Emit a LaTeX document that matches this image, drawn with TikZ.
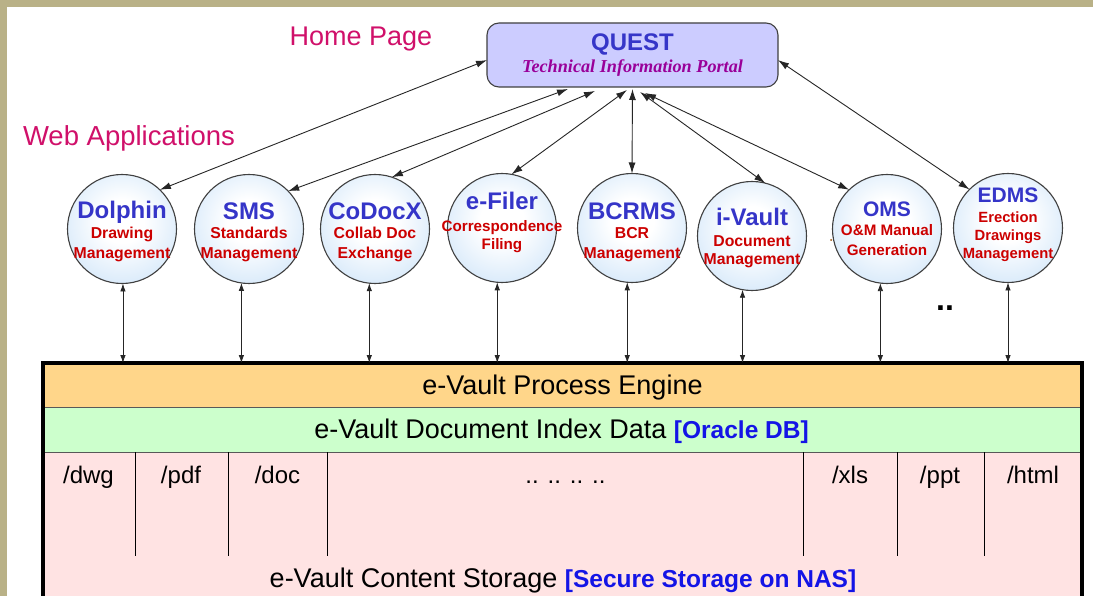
\documentclass[tikz,border=0pt]{standalone}
\usepackage{fontspec}
\setmainfont{Liberation Sans}
\newfontfamily\tnrfont{Liberation Serif}
\usetikzlibrary{arrows.meta,calc}
\definecolor{frame}{HTML}{B9B187}
\definecolor{questfill}{HTML}{CCCCFF}
\definecolor{ttlblue}{HTML}{3535C8}
\definecolor{subred}{HTML}{CC0000}
\definecolor{portal}{HTML}{990099}
\definecolor{pinkred}{HTML}{D0106A}
\definecolor{cblue}{HTML}{B8D8F6}
\definecolor{cborder}{HTML}{404040}
\definecolor{engfill}{HTML}{FFD68A}
\definecolor{idxfill}{HTML}{CCFFCC}
\definecolor{stofill}{HTML}{FFE3E3}
\definecolor{brblue}{HTML}{1414E6}
\pgfdeclareradialshading{appshade}{\pgfpoint{0bp}{4bp}}{color(0bp)=(white); color(10bp)=(white); color(40bp)=(cblue!85!white); color(50bp)=(cblue); color(100bp)=(cblue)}
\newcommand\apptitle[2][24]{{\fontsize{#1}{#1}\selectfont\color{ttlblue}#2}}
\begin{document}
\begin{tikzpicture}[x=1pt,y=-1pt,
  every node/.style={inner sep=0pt, outer sep=0pt},
  app/.style={circle, draw=cborder, line width=1.1pt, minimum size=109pt, shading=appshade},
  apptxt/.style={align=center, text=subred, font=\bfseries\fontsize{15.8}{#1}\selectfont},
  apptxt/.default=20,
  qarr/.style={<->, >={Latex[length=11pt,width=7pt]}, line width=0.9pt, draw=black!85},
  varr/.style={<->, >={Latex[length=8pt,width=5.5pt]}, line width=0.8pt, draw=black!85},
  lbl/.style={text=pinkred, font=\fontsize{27}{27}\selectfont, anchor=base},
  band/.style={minimum width=1039pt, inner sep=0pt, outer sep=0pt},
  bandtxt/.style={font=\fontsize{27}{27}\selectfont, anchor=base},
  coltxt/.style={font=\fontsize{24}{24}\selectfont, anchor=base},
  sepline/.style={draw=black!65, line width=0.8pt},
  colline/.style={draw=black, line width=0.8pt}
]
\useasboundingbox (0,0) rectangle (1093,596);
\clip (0,0) rectangle (1093,596);
\fill[white] (0,0) rectangle (1093,596);
\fill[frame] (0,0) rectangle (1093,7);
\fill[frame] (0,0) rectangle (7,596);

% labels
\node[lbl] (home) at (361,46) {Home Page};
\node[lbl, font=\fontsize{27.5}{27.5}\selectfont] (webapps) at (129,146) {Web Applications};

% QUEST portal
\node[draw=cborder, line width=1.1pt, fill=questfill, rounded corners=12pt,
      minimum width=291pt, minimum height=64pt, align=center,
      font=\fontsize{18.2}{22.5}\selectfont] (quest) at (632.5,55)
  {{\bfseries\fontsize{24}{24}\selectfont\color{ttlblue}QUEST}\\
   {\tnrfont\bfseries\itshape\color{portal}Technical Information Portal}};

% application circles
\node[app] (dolphin) at (122,229) {};
\node[app] (sms)     at (249,229) {};
\node[app] (codocx)  at (375,229) {};
\node[app] (efiler)  at (502,228) {};
\node[app] (bcrms)   at (632,228) {};
\node[app] (ivault)  at (752,236) {};
\node[app] (oms)     at (887,229) {};
\node[app] (edms)    at (1008,228) {};

\node[apptxt] (dolphin-t) at (122,231.5) {\apptitle{Dolphin}\\Drawing\\Management};
\node[apptxt=19.5] (sms-t) at (249,232) {\apptitle{SMS}\\Standards\\Management};
\node[apptxt=19.5] (codocx-t) at (375,232) {\apptitle{CoDocX}\\Collab Doc\\Exchange};
\node[apptxt=18, font=\bfseries\fontsize{15.2}{18}\selectfont] (efiler-t) at (502,222.5) {\apptitle{e-Filer}\\[4pt]Correspondence\\Filing};
\node[apptxt=19.5] (bcrms-t) at (632,232) {\apptitle{BCRMS}\\BCR\\Management};
\node[apptxt=18] (ivault-t) at (752,238) {\apptitle{i-Vault}\\[3pt]Document\\Management};
\node[apptxt=19.5, font=\bfseries\fontsize{15.2}{19.5}\selectfont] (oms-t) at (887,228.5) {\apptitle[21]{OMS}\\O\&M Manual\\Generation};
\node[align=center, text=subred, font=\bfseries\fontsize{14.8}{18}\selectfont] (edms-t) at (1008,225)
  {\apptitle[21]{EDMS}\\[2pt]Erection\\Drawings\\Management};

\node[font=\bfseries\fontsize{32}{32}\selectfont, anchor=base] (more) at (945,310) {..};
\fill[orange!60!black] (831,240) circle (1);

% e-Vault block
\node[band, fill=engfill, minimum height=44pt] (engine) at (562.5,385) {};
\node[band, fill=idxfill, minimum height=45pt] (index) at (562.5,429.5) {};
\node[band, fill=stofill, minimum height=176pt] (storage) at (562.5,540) {};
\draw[sepline] (engine.south west) -- (engine.south east);
\draw[sepline] (index.south west) -- (index.south east);
\draw[line width=4pt] ([yshift=-260pt]engine.north west) -- (engine.north west)
  -- (engine.north east) -- ([yshift=-260pt]engine.north east);

\node[bandtxt] (engine-t) at (562.5,394) {e-Vault Process Engine};
\node[bandtxt] (index-t) at (561.5,438) {e-Vault Document Index Data {\fontsize{24.5}{24.5}\selectfont\bfseries\color{brblue}[Oracle DB]}};
\node[bandtxt] (storage-t) at (563,587) {e-Vault Content Storage {\fontsize{24.5}{24.5}\selectfont\bfseries\color{brblue}[Secure Storage on NAS]}};

\foreach \x in {135,228,327,803,897,984} \draw[colline] (\x,452) -- (\x,556);
\node[coltxt] (c-dwg) at (88.5,483) {/dwg};
\node[coltxt] (c-pdf) at (181,483) {/pdf};
\node[coltxt] (c-doc) at (277.5,483) {/doc};
\node[coltxt] (c-dots) at (565.5,483) {.. .. .. ..};
\node[coltxt] (c-xls) at (850,483) {/xls};
\node[coltxt] (c-ppt) at (940,483) {/ppt};
\node[coltxt] (c-html) at (1033,483) {/html};

% QUEST connectors
\coordinate (qs1) at ($(quest.south)+(-64.5,2)$);
\coordinate (qs2) at ($(quest.south)+(-37.5,4)$);
\coordinate (qs3) at ($(quest.south)+(-5.5,3)$);
\coordinate (qs4) at ($(quest.south)+(0,2)$);
\coordinate (qs5) at ($(quest.south)+(7.5,5)$);
\coordinate (qs6) at ($(quest.south)+(12.5,6)$);
\draw[qarr] (quest.182) -- (dolphin.46);
\draw[qarr] (qs1) -- (sms.44);
\draw[qarr] (qs2) -- (codocx.72);
\draw[qarr] (qs3) -- (efiler.80);
\draw[qarr] (qs4) -- (bcrms.north);
\draw[qarr] (qs5) -- (ivault.76);
\draw[qarr] (qs6) -- (oms.134);
\draw[qarr] (quest.358) -- (edms.135);

% vertical connectors to process engine
\draw[varr] (dolphin.271) -- (dolphin.271 |- engine.north);
\draw[varr] (sms.262) -- (sms.262 |- engine.north);
\draw[varr] (codocx.264) -- (codocx.264 |- engine.north);
\draw[varr] (efiler.265) -- (efiler.265 |- engine.north);
\draw[varr] (bcrms.265) -- (bcrms.265 |- engine.north);
\draw[varr] (ivault.260) -- (ivault.260 |- engine.north);
\draw[varr] (oms.263) -- (oms.263 |- engine.north);
\draw[varr] (edms.270) -- (edms.270 |- engine.north);
\end{tikzpicture}
\end{document}
